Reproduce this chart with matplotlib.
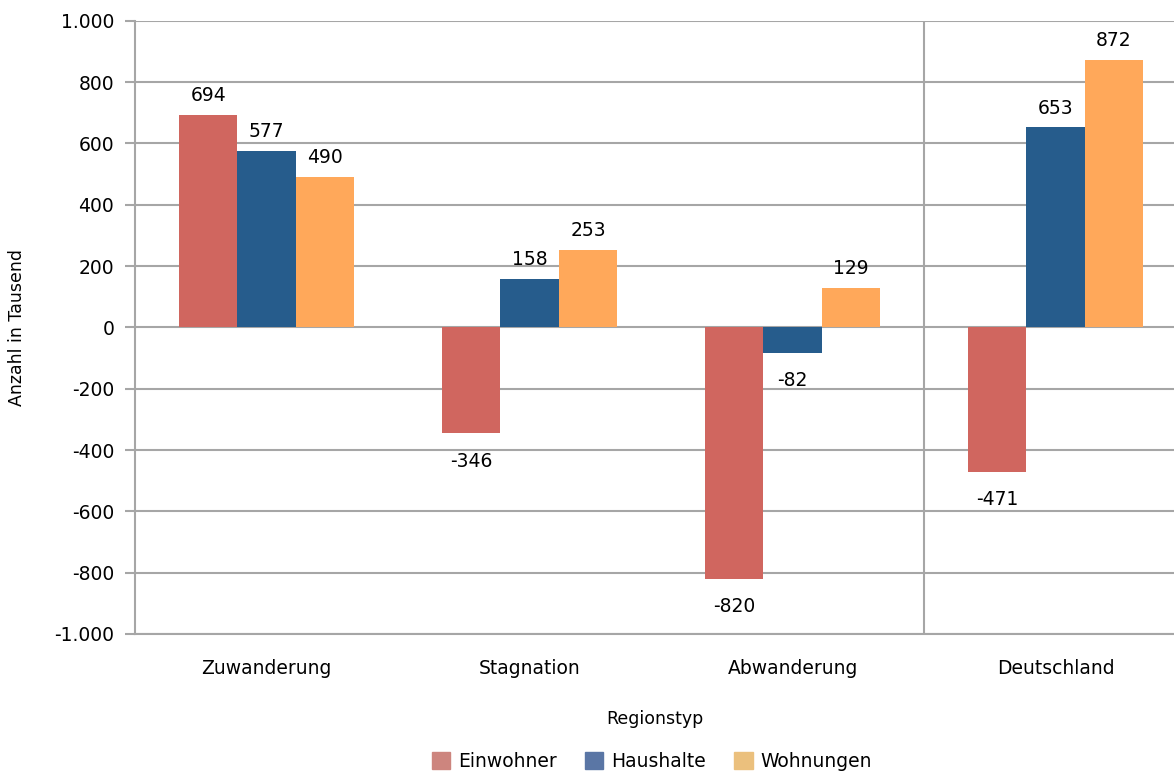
import numpy as np
import matplotlib.pyplot as plt
from matplotlib.patches import Patch

plt.rcParams['font.family'] = ['DejaVu Sans']

categories = ["Zuwanderung", "Stagnation", "Abwanderung", "Deutschland"]
series = ["Einwohner", "Haushalte", "Wohnungen"]
einwohner = [694, -346, -820, -471]
haushalte = [577, 158, -82, 653]
wohnungen = [490, 253, 129, 872]

bar_colors = ["#D0665F", "#265C8C", "#FFA85A"]
legend_colors = ["#CD857E", "#5A76A5", "#EBC07D"]

fig = plt.figure(figsize=(11.74, 7.74), dpi=100)
ax = fig.add_axes([0.115, 0.181, 0.885, 0.792])

x = np.arange(len(categories))
w = 0.222
grid_col = "#A6A6A6"

for i, (vals, col) in enumerate(zip([einwohner, haushalte, wohnungen], bar_colors)):
    pos = x + (i - 1) * w
    ax.bar(pos, vals, width=w, color=col, zorder=3)
    for px, v in zip(pos, vals):
        if v >= 0:
            ax.annotate(str(v), (px, v), xytext=(0, 7), textcoords="offset points",
                        ha="center", va="bottom", fontsize=13.5)
        else:
            ax.annotate(str(v), (px, v), xytext=(0, -13), textcoords="offset points",
                        ha="center", va="top", fontsize=13.5)

ax.set_ylim(-1000, 1000)
ax.set_xlim(-0.5, 3.45)
yt = np.arange(-1000, 1001, 200)
ax.set_yticks(yt)
ax.set_yticklabels([f"{v:,}".replace(",", ".") for v in yt], fontsize=13.5)
for v in yt:
    ax.axhline(v, color=grid_col, lw=1.5, zorder=1)
ax.axvline(2.5, color=grid_col, lw=1.5, zorder=1)

ax.set_xticks(x)
ax.set_xticklabels(categories, fontsize=13.5)
ax.tick_params(axis="x", length=0, pad=18)
ax.tick_params(axis="y", length=7, width=1.5, color=grid_col, pad=8)

for s in ["top", "right"]:
    ax.spines[s].set_visible(False)
ax.spines["left"].set_color(grid_col)
ax.spines["left"].set_linewidth(1.5)
ax.spines["bottom"].set_color(grid_col)
ax.spines["bottom"].set_linewidth(1.5)

ax.set_ylabel("Anzahl in Tausend", fontsize=12.5, labelpad=20)
ax.set_xlabel("Regionstyp", fontsize=12.5, labelpad=23)

handles = [Patch(color=c, label=s) for c, s in zip(legend_colors, series)]
fig.legend(handles=handles, loc="lower center", ncol=3, frameon=False,
           bbox_to_anchor=(0.555, -0.018), fontsize=13.5, handlelength=1.0,
           handleheight=1.0, handletextpad=0.4, columnspacing=1.5)

fig.savefig("out.png", dpi=100)
